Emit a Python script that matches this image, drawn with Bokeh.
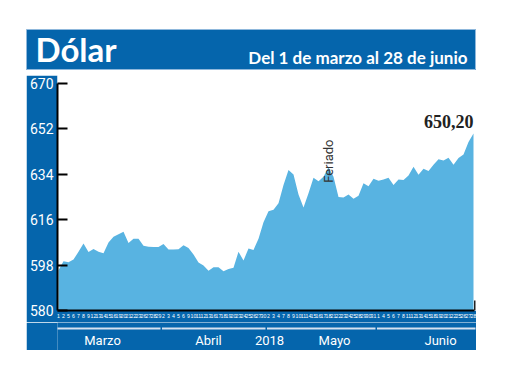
import math
from bokeh.plotting import figure
from bokeh.layouts import column, row
from bokeh.models import LinearAxis, FixedTicker, Range1d, BoxAnnotation, Label, Spacer
from bokeh.core.properties import value
from bokeh.embed import file_html
from bokeh.resources import INLINE

# ---------------- data ----------------
title_text = "Dólar"
subtitle_text = "Del 1 de marzo al 28 de junio"
year_text = "2018"
holiday_text = "Feriado"

month_names = ["Marzo", "Abril", "Mayo", "Junio"]
days_marzo = [1, 2, 5, 6, 7, 8, 9, 12, 13, 14, 15, 16, 19, 20, 21, 22, 23, 26, 27, 28, 29]
days_abril = [2, 3, 4, 5, 6, 9, 10, 11, 12, 13, 16, 17, 18, 19, 20, 23, 24, 25, 26, 27, 30]
days_mayo = [2, 3, 4, 7, 8, 9, 10, 11, 14, 15, 16, 17, 18, 21, 22, 23, 24, 25, 28, 29, 30, 31]
days_junio = [1, 4, 5, 6, 7, 8, 11, 12, 13, 14, 15, 18, 19, 20, 21, 22, 25, 26, 27, 28]

vals_marzo = [596.0, 599.5, 599.1, 600.2, 603.3, 606.6, 603.2, 604.4, 603.3, 602.7, 607.0,
              609.2, 610.2, 611.2, 606.8, 608.5, 608.5, 605.7, 605.3, 605.2, 605.2]
vals_abril = [606.4, 604.2, 604.2, 604.3, 605.9, 604.8, 602.2, 599.0, 597.8, 595.8, 597.2,
              597.2, 595.6, 596.5, 597.0, 603.3, 599.8, 604.6, 604.0, 608.5, 615.0]
vals_mayo = [619.4, 620.0, 622.5, 629.8, 635.7, 633.9, 626.0, 620.8, 626.5, 632.6, 631.3,
             633.0, 636.8, 633.0, 625.0, 624.8, 626.0, 624.3, 625.5, 630.5, 629.3, 632.3]
vals_junio = [631.5, 632.0, 632.6, 629.8, 632.0, 631.8, 633.5, 637.0, 633.8, 636.2, 635.3,
              637.8, 640.0, 639.5, 640.6, 637.8, 640.5, 641.9, 646.8, 650.2]

holiday_month, holiday_day = 2, 21   # Mayo 21
last_value_label = "650,20"
y_ticks = [580, 598, 616, 634, 652, 670]

# ---------------- build ----------------
month_days = [days_marzo, days_abril, days_mayo, days_junio]
month_vals = [vals_marzo, vals_abril, vals_mayo, vals_junio]
day_labels, values, month_start, month_end = [], [], [], []
for d, v in zip(month_days, month_vals):
    month_start.append(len(values))
    day_labels += [str(x) for x in d]
    values += v
    month_end.append(len(values) - 1)
xs = list(range(len(values)))
holiday_idx = month_start[holiday_month] + month_days[holiday_month].index(holiday_day)

BLUE = "#0565AC"
AREA = "#58B3E1"
LEFT_W = 31          # width of the left blue band
PLOT_W = 450

x_range = Range1d(-0.2, len(values) - 1 + 0.6)

# ---- title band ----
tf = figure(width=26 + PLOT_W, height=70, output_backend="svg", toolbar_location=None,
            x_range=Range1d(0, PLOT_W), y_range=Range1d(0, 41),
            x_axis_location=None, y_axis_location=None,
            min_border_left=26, min_border_top=29, min_border_right=0, min_border_bottom=0,
            background_fill_color=BLUE, border_fill_color="white", outline_line_color="#8FB8DC")
tf.grid.visible = False
tf.add_layout(Label(x=9, y=2, text=title_text, text_font="Lato", text_font_style="bold",
                    text_font_size="33px", text_color="white", text_baseline="bottom"))
tf.add_layout(Label(x=441, y=3, text=subtitle_text, text_font="Lato", text_font_style="bold",
                    text_font_size="17px", text_color="white", text_align="right",
                    text_baseline="bottom"))

# ---- main plot ----
p = figure(width=PLOT_W, height=247, output_backend="svg", toolbar_location=None,
           x_range=x_range, y_range=Range1d(580, 673.2),
           x_axis_location=None, y_axis_location=None,
           min_border_left=LEFT_W, min_border_right=0, min_border_top=0, min_border_bottom=12,
           background_fill_color="white", border_fill_color=BLUE, outline_line_color=None)
p.grid.visible = False

p.varea(x=xs, y1=[580] * len(values), y2=values, fill_color=AREA)

yaxis = LinearAxis(ticker=FixedTicker(ticks=y_ticks), bounds=(y_ticks[0], y_ticks[-1]),
                   major_tick_in=10, major_tick_out=0,
                   major_tick_line_color="black", major_tick_line_width=2,
                   minor_tick_line_color=None, axis_line_color="black", axis_line_width=2,
                   major_label_text_color="white", major_label_text_font="Roboto",
                   major_label_text_font_size="14px", major_label_standoff=4)
p.add_layout(yaxis, "left")

xaxis = LinearAxis(ticker=FixedTicker(ticks=xs), bounds=(-0.2, len(values) - 1 + 0.2),
                   major_label_overrides={i: s for i, s in zip(xs, day_labels)},
                   major_tick_in=0, major_tick_out=0, minor_tick_line_color=None,
                   axis_line_color="black", axis_line_width=2,
                   major_label_text_color="white",
                   major_label_text_font="'Liberation Sans Narrow', 'Liberation Sans'",
                   major_label_text_font_size="5.2px", major_label_standoff=3)
p.add_layout(xaxis, "below")

# small end mark of the x axis
p.add_layout(BoxAnnotation(left=len(values) - 1 + 0.1, right=len(values) - 1 + 0.4,
                           bottom=580, top=584, fill_color="#222222", fill_alpha=1,
                           line_color=None))

p.add_layout(Label(x=xs[-1], y=values[-1], text=last_value_label, y_offset=5,
                   text_font="Liberation Serif", text_font_style="bold", text_font_size="18px",
                   text_color="#222222", text_align="right", text_baseline="bottom"))
p.add_layout(Label(x=holiday_idx, y=values[holiday_idx], text=holiday_text, angle=math.pi / 2,
                   x_offset=-5, y_offset=-6, text_font="Roboto", text_font_size="13px",
                   text_color="#333333", text_align="left", text_baseline="middle"))

# ---- month band ----
bf = figure(width=PLOT_W, height=28, output_backend="svg", toolbar_location=None,
            x_range=x_range, y_range=Range1d(0, 28),
            x_axis_location=None, y_axis_location=None,
            min_border_left=LEFT_W, min_border_right=0, min_border_top=0, min_border_bottom=0,
            background_fill_color=BLUE, border_fill_color=BLUE, outline_line_color=None)
bf.grid.visible = False
bf.segment(x0=[s - 0.3 for s in month_start], x1=[e + 0.4 for e in month_end],
           y0=[22] * 4, y1=[22] * 4, line_color="#D5E2F0", line_width=2)
label_pos = [8.8, 30.0, 42.2, 55.2, 76.4]
label_txt = [month_names[0], month_names[1], year_text, month_names[2], month_names[3]]
bf.text(x=label_pos, y=[10] * len(label_pos), text=label_txt, text_color="white",
        text_font=value("Roboto"), text_font_size="13px", text_align="center",
        text_baseline="middle")

layout = column(tf, Spacer(height=5),
                row(Spacer(width=26), p),
                row(Spacer(width=26), bf))

open("out.html", "w").write(file_html(layout, INLINE))
